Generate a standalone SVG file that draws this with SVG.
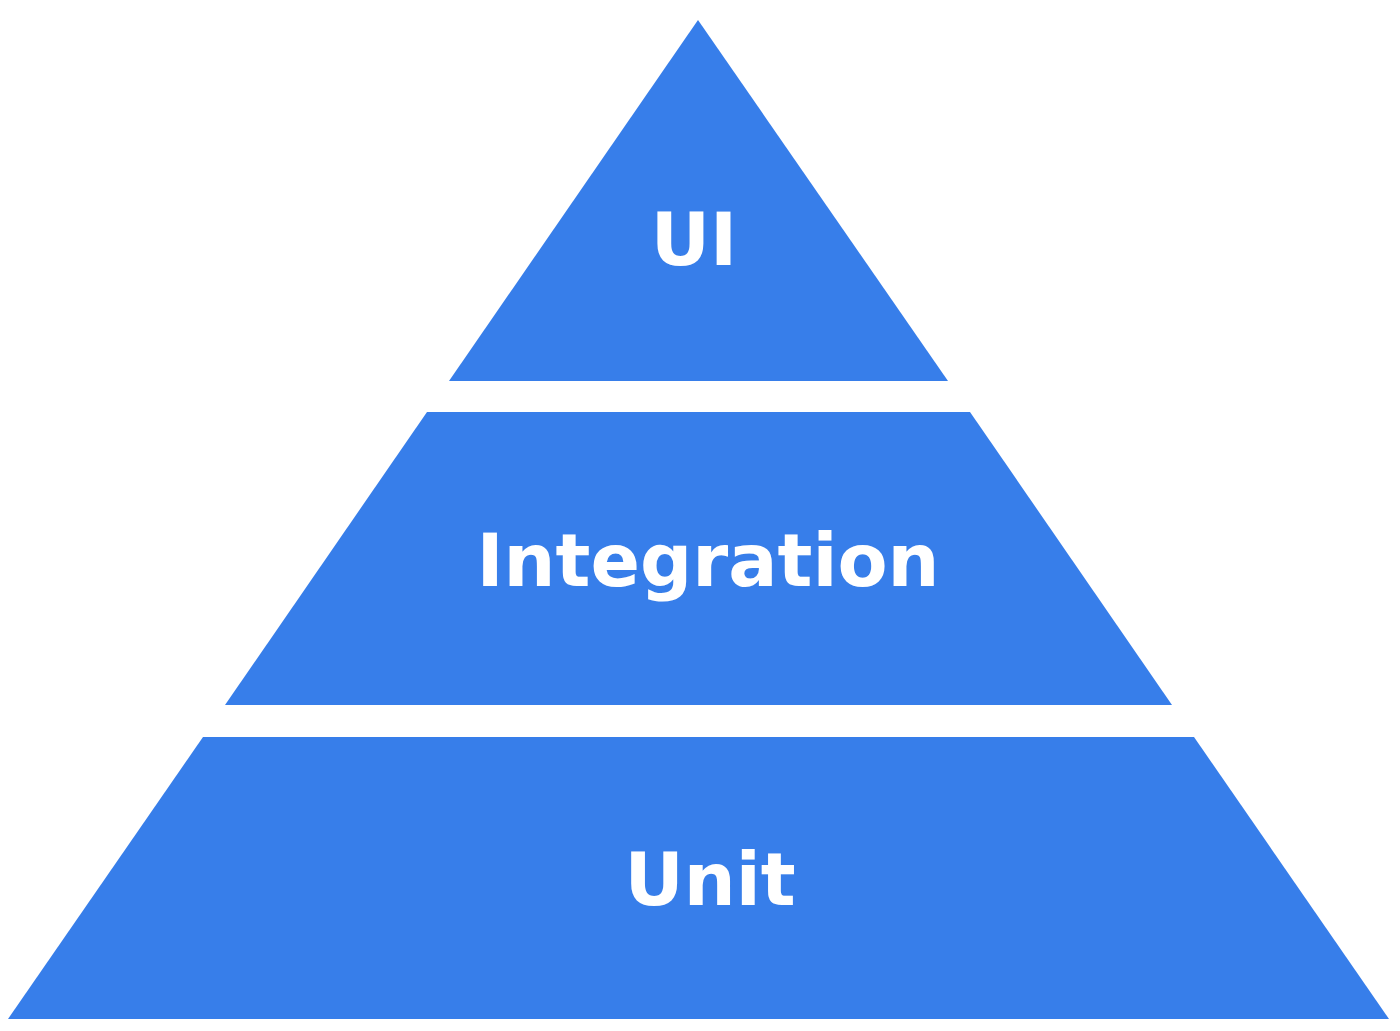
<svg xmlns="http://www.w3.org/2000/svg" width="1400" height="1031" viewBox="0 0 1400 1031">
<style>
.tier{fill:#377EEA}
.lbl{fill:#fff;font-family:"DejaVu Sans",Verdana,sans-serif;font-weight:bold;font-size:73px;text-anchor:middle}
</style>
<rect width="1400" height="1031" fill="#fff"/>
<g id="ui">
<polygon class="tier" points="698,20 948,381 449,381"/>
<text class="lbl" x="694" y="265">UI</text>
</g>
<g id="integration">
<polygon class="tier" points="427,412 970,412 1172,705 225,705"/>
<text class="lbl" x="708" y="586">Integration</text>
</g>
<g id="unit">
<polygon class="tier" points="203,737 1194,737 1389,1019 8,1019"/>
<text class="lbl" x="710" y="905">Unit</text>
</g>
<g id="connectors"></g>
</svg>
